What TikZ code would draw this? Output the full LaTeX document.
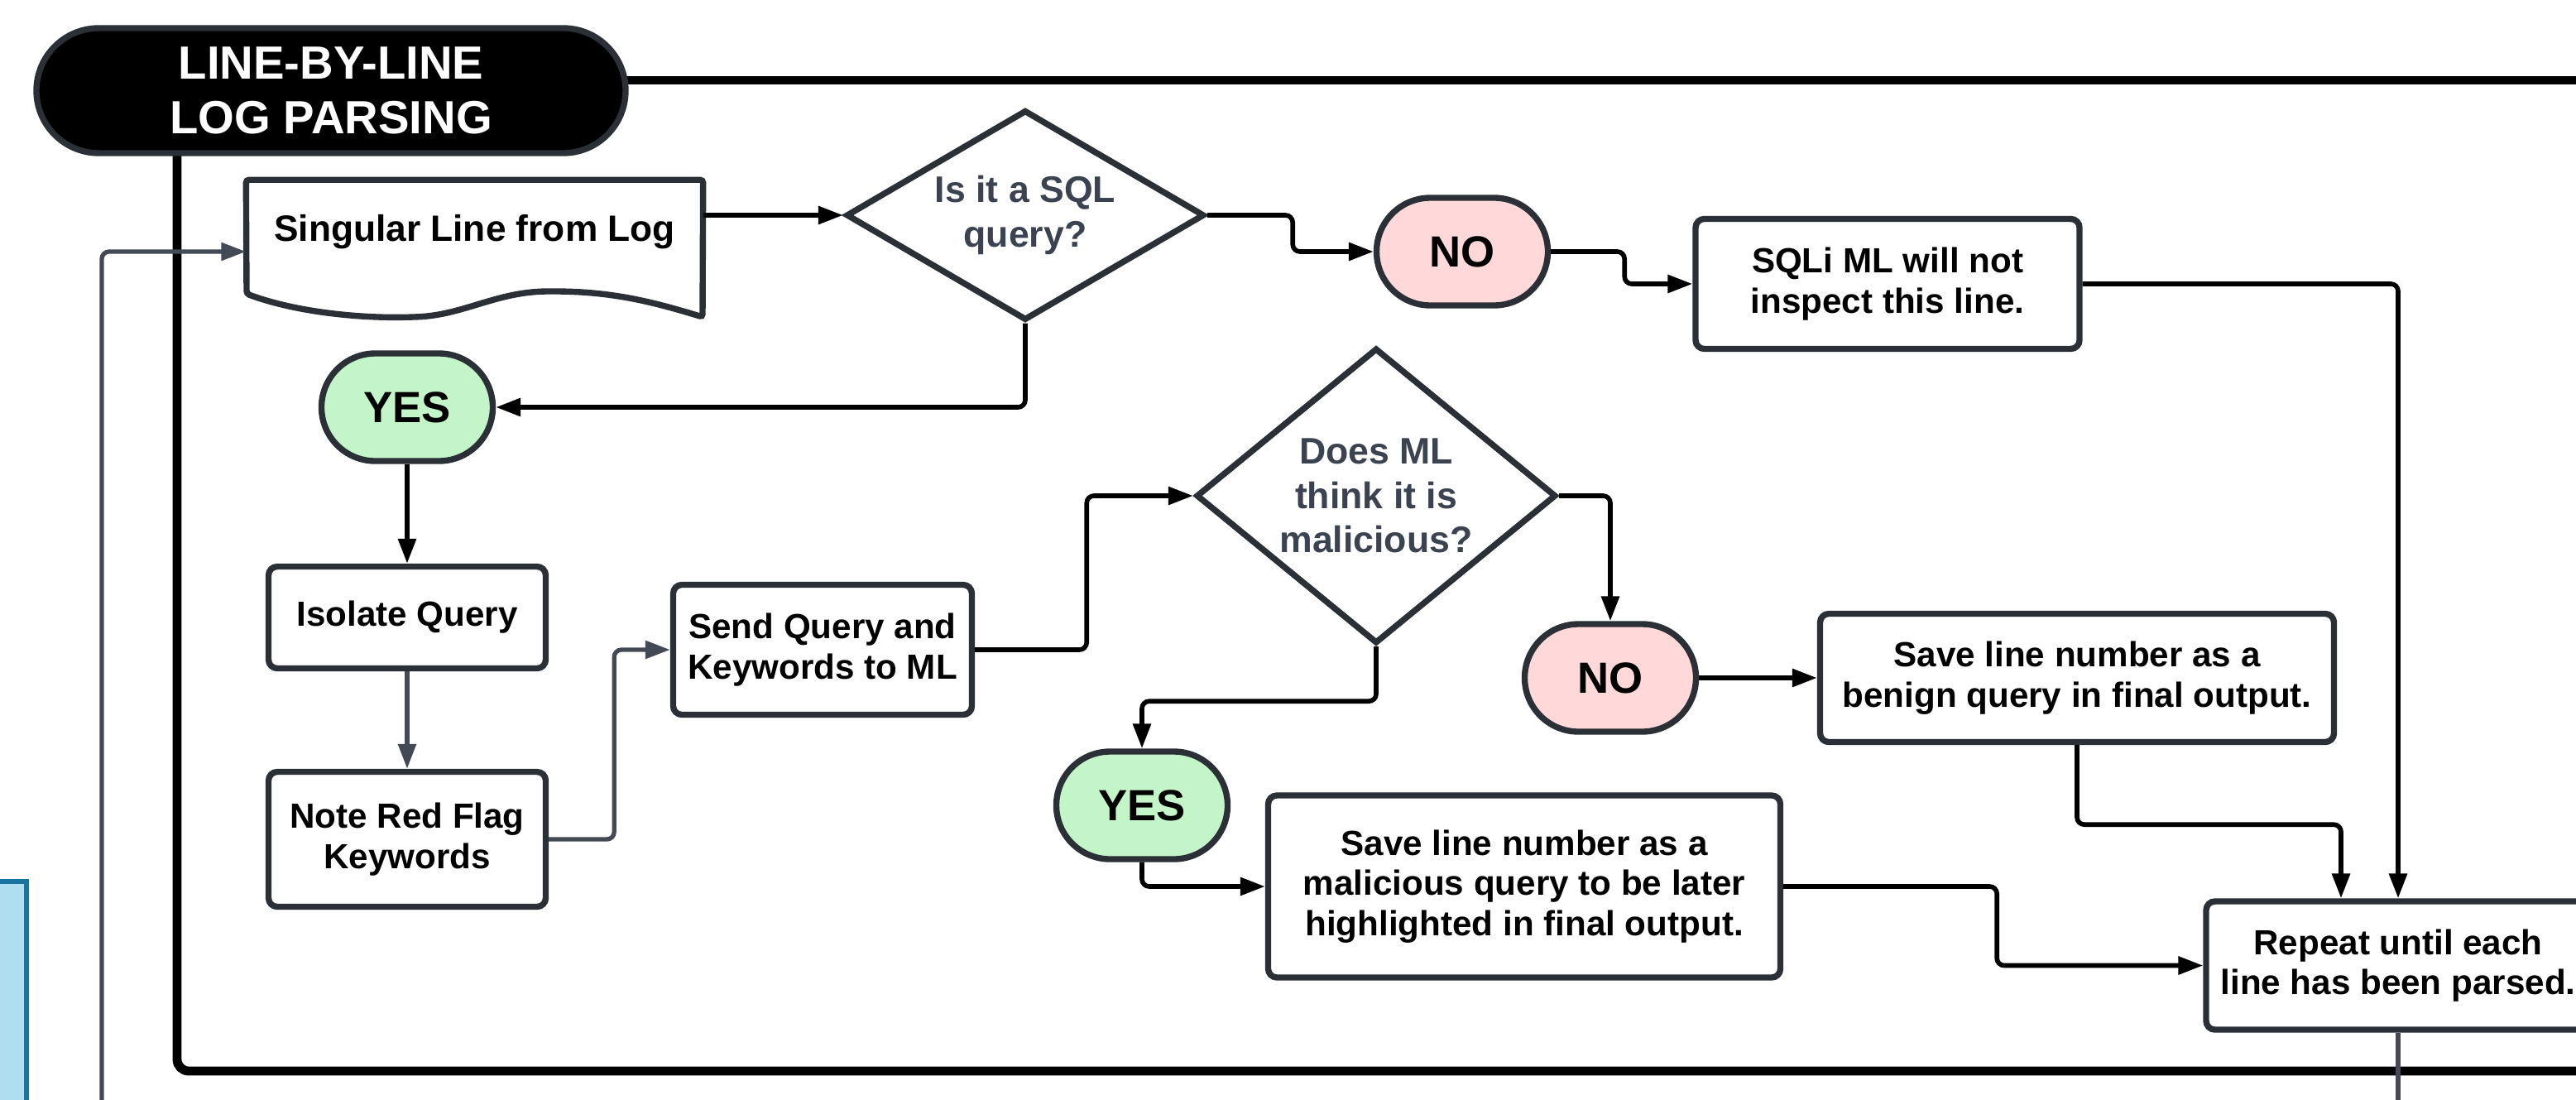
\documentclass[tikz,border=0pt]{standalone}
\usepackage{fontspec}
\setmainfont{Liberation Sans}
\usepackage{tikz}
\usetikzlibrary{arrows.meta,positioning,shapes.geometric,shapes.misc}
\usepackage{xcolor}
\definecolor{edgegrey}{HTML}{2B2F36}
\definecolor{wiregrey}{HTML}{434A55}
\definecolor{asktext}{HTML}{3B4250}
\definecolor{yesgreen}{HTML}{C3F5C8}
\definecolor{nopink}{HTML}{FFD9D9}
\definecolor{sidefill}{HTML}{B0DDEF}
\definecolor{sideedge}{HTML}{1873A0}

\begin{document}
\begin{tikzpicture}[
    box/.style={rectangle, draw=edgegrey, line width=2.1pt, rounded corners=3pt, align=center, inner sep=0pt, font=\fontsize{12}{13.8}\selectfont\bfseries},
    pill/.style={rounded rectangle, draw=edgegrey, line width=2.1pt, inner sep=0pt, minimum width=2.07cm, minimum height=1.3cm, font=\fontsize{15}{17}\selectfont\bfseries},
    decision/.style={diamond, draw=edgegrey, line width=2.1pt, inner sep=0pt, align=center, text=asktext, font=\fontsize{12.7}{15.3}\selectfont\bfseries},
    arr/.style={-{Triangle[length=8.5pt,width=6pt]}, line width=1.6pt, black, rounded corners=2.5pt},
    wireline/.style={line width=1.5pt, wiregrey, rounded corners=2.5pt},
    wire/.style={wireline, -{Triangle[length=8.5pt,width=6pt]}},
    frame/.style={line width=3.1pt, black, rounded corners=4pt}
]
\clip (0,0) rectangle (31.13,-13.28);

% lane
\draw[frame] (3,-0.97) -- (31.5,-0.97);
\draw[frame] (2.14,-1.6) -- (2.14,-12.94) -- (31.5,-12.94);
\node[pill, fill=black, draw=edgegrey, text=white, align=center, minimum width=7.12cm, minimum height=1.51cm, font=\fontsize{16}{19}\selectfont\bfseries] (title) at (4.00,-1.095) {LINE-BY-LINE\\LOG PARSING};
\node[draw=sideedge, fill=sidefill, line width=1.5pt, minimum width=1.64cm, minimum height=3.7cm, inner sep=0pt] (side) at (-0.5,-12.5) {};

\node[inner sep=0pt, minimum width=5.51cm, minimum height=1.24cm, font=\fontsize{12.6}{15}\selectfont\bfseries] (doc) at (5.735,-2.80) {Singular Line from Log};
\draw[edgegrey, line width=2.1pt, rounded corners=1pt] (doc.north west) -- (2.98,-3.55) .. controls (3.6,-3.78) and (4.4,-3.85) .. (5.0,-3.83) .. controls (5.6,-3.81) and (6.0,-3.52) .. (6.66,-3.52) .. controls (7.4,-3.52) and (7.9,-3.65) .. (8.49,-3.83) -- (doc.north east) -- cycle;

\node[decision, aspect=1.7, minimum width=4.33cm, minimum height=2.54cm] (q1) at (12.39,-2.60) {Is it a SQL\\query?};
\node[pill, fill=nopink] (no1) at (17.67,-3.04) {NO};
\node[box, minimum width=4.64cm, minimum height=1.57cm] (sqli) at (22.81,-3.43) {SQLi ML will not\\inspect this line.};
\node[pill, fill=yesgreen] (yes1) at (4.92,-4.92) {YES};
\node[box, minimum width=3.35cm, minimum height=1.23cm] (isolate) at (4.92,-7.46) {Isolate Query};
\node[box, minimum width=3.35cm, minimum height=1.63cm] (note) at (4.92,-10.14) {Note Red Flag\\Keywords};
\node[box, minimum width=3.61cm, minimum height=1.57cm] (send) at (9.94,-7.85) {Send Query and\\Keywords to ML};
\node[decision, aspect=1.22, minimum width=4.35cm, minimum height=3.57cm] (q2) at (16.63,-5.99) {Does ML\\think it is\\malicious?};
\node[pill, fill=nopink] (no2) at (19.46,-8.19) {NO};
\node[box, minimum width=6.21cm, minimum height=1.55cm] (benign) at (25.10,-8.19) {Save line number as a\\benign query in final output.};
\node[pill, fill=yesgreen] (yes2) at (13.80,-9.73) {YES};
\node[box, minimum width=6.19cm, minimum height=2.20cm] (malic) at (18.42,-10.71) {Save line number as a\\malicious query to be later\\highlighted in final output.};
\node[box, minimum width=4.64cm, minimum height=1.55cm] (repeat) at (28.98,-11.665) {Repeat until each\\line has been parsed.};

\coordinate (loopout) at (1.23,-13.5);
\coordinate (repout) at (28.98,-13.5);

\draw[arr] (doc.east |- q1.west) -- (q1.west);
\draw[arr] (q1.east) -- ++(1.03,0) |- (no1.west);
\draw[arr] (no1.east) -- ++(0.89,0) |- (sqli.west);
\draw[arr] (sqli.east) -| (repeat.north);
\draw[arr] (q1.south) |- (yes1.east);
\draw[arr] (yes1.south) -- (isolate.north);
\draw[wire] (isolate.south) -- (note.north);
\draw[wire] (note.east) -- ++(0.79,0) |- (send.west);
\draw[arr] (send.east) -- ++(1.35,0) |- (q2.west);
\draw[arr] (q2.east) -| (no2.north);
\draw[arr] (no2.east) -- (benign.west);
\draw[arr] (benign.south) -- ++(0,-0.96) -| ([xshift=-0.69cm]repeat.north);
\draw[arr] (q2.south) -- ++(0,-0.66) -| (yes2.north);
\draw[arr] (yes2.south) |- (malic.west);
\draw[arr] (malic.east) -- ++(2.58,0) |- (repeat.west);
\draw[wireline] (repeat.south) -- (repout);
\draw[wire] (loopout) |- ([yshift=-0.24cm]doc.west);
\end{tikzpicture}
\end{document}
